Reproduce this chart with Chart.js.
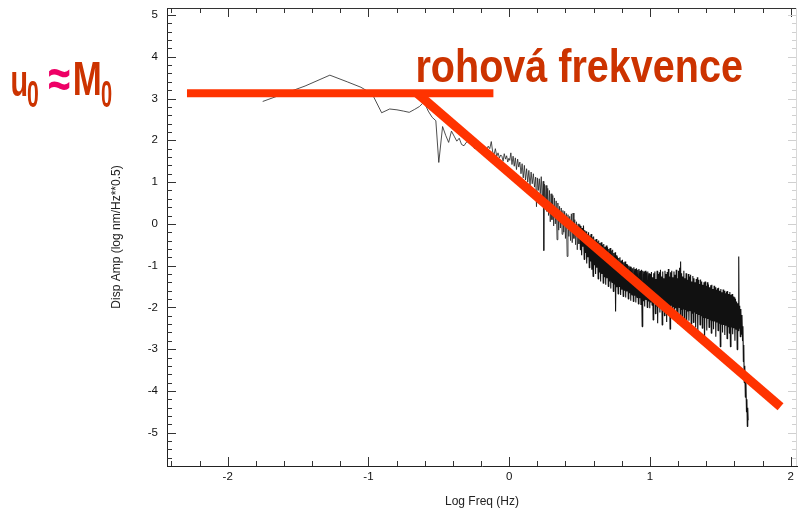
<!DOCTYPE html>
<html>
<head>
<meta charset="utf-8">
<script src="https://cdn.jsdelivr.net/npm/chart.js@4/dist/chart.umd.min.js"></script>
<style>
  html, body { margin: 0; padding: 0; background: #fff; }
  canvas { display: block; }
</style>
</head>
<body>
<canvas id="spec" width="798" height="509"></canvas>
<script>
// Displacement amplitude spectrum: [log frequency (Hz), log amplitude]
const spectrum = [
  [-1.751, 2.93], [-1.450, 3.30], [-1.274, 3.56], [-1.150, 3.40], [-1.053, 3.27],
  [-0.973, 3.11], [-0.906, 2.66], [-0.849, 2.75], [-0.797, 2.73], [-0.751, 2.70],
  [-0.710, 2.67], [-0.672, 2.74], [-0.637, 2.81], [-0.605, 2.92], [-0.575, 2.70],
  [-0.547, 2.55], [-0.521, 2.47], [-0.500, 1.47], [-0.473, 2.33], [-0.451, 2.12],
  [-0.430, 1.95], [-0.410, 2.22], [-0.391, 2.10], [-0.372, 1.98], [-0.355, 2.05],
  [-0.338, 1.90], [-0.321, 1.87], [-0.305, 1.95], [-0.290, 1.98], [-0.274, 2.05],
  [-0.260, 1.90], [-0.246, 1.80], [-0.233, 1.92], [-0.220, 1.78], [-0.207, 1.72],
  [-0.195, 1.83], [-0.183, 1.70], [-0.171, 1.78], [-0.160, 1.76], [-0.149, 1.86],
  [-0.138, 1.80], [-0.127, 1.97], [-0.117, 1.72], [-0.107, 1.66], [-0.098, 1.80],
  [-0.088, 1.62], [-0.079, 1.70], [-0.069, 1.58], [-0.060, 1.65], [-0.052, 1.62],
  [-0.043, 1.50], [-0.035, 1.68], [-0.026, 1.55], [-0.018, 1.63], [-0.010, 1.48],
  [-0.002, 1.57], [0.004, 1.52], [0.012, 1.70], [0.020, 1.42], [0.028, 1.62],
  [0.036, 1.38], [0.044, 1.58], [0.052, 1.30], [0.060, 1.55], [0.068, 1.36],
  [0.076, 1.48], [0.084, 1.20], [0.092, 1.44], [0.100, 1.10], [0.108, 1.40],
  [0.116, 1.05], [0.124, 1.32], [0.132, 1.00], [0.140, 1.28], [0.148, 0.92],
  [0.156, 1.24], [0.164, 0.96], [0.172, 1.20], [0.180, 0.88], [0.188, 1.12],
  [0.194, 0.41], [0.200, 1.10], [0.207, 0.80], [0.214, 1.08], [0.221, 0.72],
  [0.228, 1.13], [0.235, 0.55], [0.242, 1.02], [0.246, -0.64], [0.250, 0.95],
  [0.256, 0.45], [0.262, 0.92], [0.268, 0.30], [0.274, 0.85], [0.280, 0.20],
  [0.286, 0.80], [0.292, 0.05], [0.298, 0.72], [0.304, 0.10], [0.310, 0.68],
  [0.316, -0.05], [0.322, 0.62], [0.328, 0.00], [0.334, 0.55], [0.340, -0.38],
  [0.346, 0.50], [0.352, -0.15], [0.358, 0.42], [0.364, -0.10], [0.370, 0.38],
  [0.376, -0.25], [0.382, 0.32], [0.388, -0.20], [0.394, 0.30], [0.400, -0.35],
  [0.406, 0.25], [0.412, -0.78], [0.418, 0.22], [0.424, -0.30], [0.430, 0.18],
  [0.436, -0.40], [0.442, 0.24], [0.448, -0.45], [0.454, 0.26], [0.460, -0.35],
  [0.466, 0.10], [0.472, -0.50], [0.478, 0.05], [0.484, -0.62], [0.490, 0.00],
  [0.496, -0.48], [0.502, -0.02], [0.506, -0.62], [0.510, -0.05], [0.515, -0.75],
  [0.519, -0.10], [0.524, -0.55], [0.528, -0.04], [0.533, -0.85], [0.537, -0.15],
  [0.542, -0.70], [0.546, -0.18], [0.551, -0.95], [0.555, -0.25], [0.560, -0.80],
  [0.564, -0.20], [0.569, -1.05], [0.573, -0.28], [0.578, -0.90], [0.582, -0.24],
  [0.587, -1.10], [0.591, -0.32], [0.596, -1.26], [0.600, -0.30], [0.605, -0.98],
  [0.609, -0.38], [0.614, -1.20], [0.618, -0.36], [0.623, -1.05], [0.627, -0.42],
  [0.632, -1.32], [0.636, -0.40], [0.641, -1.15], [0.645, -0.46], [0.650, -1.38],
  [0.654, -0.44], [0.659, -1.20], [0.663, -0.50], [0.668, -1.42], [0.672, -0.48],
  [0.677, -1.28], [0.681, -0.55], [0.686, -1.46], [0.690, -0.52], [0.695, -1.30],
  [0.699, -0.56], [0.704, -1.50], [0.708, -0.60], [0.713, -1.38], [0.717, -0.58],
  [0.722, -1.55], [0.726, -0.64], [0.731, -1.40], [0.735, -0.62], [0.740, -1.62],
  [0.744, -0.70], [0.749, -1.45], [0.753, -0.68], [0.756, -2.10], [0.760, -0.75],
  [0.765, -1.52], [0.769, -0.78], [0.774, -1.68], [0.778, -0.82], [0.783, -1.50],
  [0.787, -0.80], [0.792, -1.70], [0.796, -0.88], [0.801, -1.58], [0.805, -0.86],
  [0.810, -1.74], [0.814, -0.92], [0.819, -1.60], [0.823, -0.90], [0.828, -1.76],
  [0.832, -0.96], [0.837, -1.62], [0.841, -0.98], [0.846, -1.80], [0.850, -1.00],
  [0.855, -1.66], [0.859, -1.02], [0.864, -1.84], [0.868, -1.04], [0.873, -1.70],
  [0.877, -1.06], [0.882, -1.86], [0.886, -1.04], [0.891, -1.72], [0.895, -1.08],
  [0.900, -1.88], [0.904, -1.06], [0.909, -1.76], [0.913, -1.10], [0.918, -1.92],
  [0.922, -1.08], [0.927, -1.78], [0.931, -1.12], [0.936, -1.94], [0.940, -1.10],
  [0.945, -2.46], [0.949, -1.12], [0.954, -1.85], [0.958, -1.14], [0.963, -1.98],
  [0.967, -1.12], [0.972, -1.82], [0.976, -1.16], [0.981, -2.00], [0.985, -1.14],
  [0.990, -1.86], [0.994, -1.18], [0.999, -2.02], [1.003, -1.20], [1.007, -1.88],
  [1.011, -1.15], [1.015, -1.95], [1.019, -1.28], [1.023, -2.30], [1.027, -1.18],
  [1.031, -1.84], [1.035, -1.14], [1.039, -2.15], [1.043, -1.32], [1.047, -1.98],
  [1.051, -1.12], [1.055, -2.38], [1.059, -1.20], [1.063, -1.90], [1.067, -1.16],
  [1.071, -2.12], [1.075, -1.10], [1.079, -1.86], [1.083, -1.26], [1.087, -2.42],
  [1.091, -1.14], [1.095, -2.00], [1.099, -1.30], [1.103, -2.20], [1.107, -1.12],
  [1.111, -1.92], [1.115, -1.20], [1.119, -2.35], [1.123, -1.15], [1.127, -1.96],
  [1.131, -1.08], [1.135, -2.18], [1.139, -1.26], [1.143, -2.52], [1.147, -1.16],
  [1.151, -1.95], [1.155, -1.12], [1.159, -2.22], [1.163, -1.28], [1.167, -1.98],
  [1.171, -1.14], [1.175, -2.30], [1.179, -1.22], [1.183, -2.02], [1.187, -1.10],
  [1.191, -2.24], [1.195, -1.30], [1.199, -2.40], [1.203, -1.12], [1.207, -2.00],
  [1.211, -1.05], [1.215, -2.26], [1.218, -0.90], [1.221, -2.05], [1.225, -1.18],
  [1.229, -2.45], [1.233, -1.26], [1.237, -2.04], [1.241, -1.12], [1.245, -2.28],
  [1.249, -1.30], [1.253, -2.06], [1.257, -1.18], [1.261, -2.50], [1.265, -1.34],
  [1.269, -2.10], [1.273, -1.20], [1.277, -2.32], [1.281, -1.26], [1.285, -2.08],
  [1.289, -1.22], [1.293, -2.40], [1.297, -1.38], [1.301, -2.14], [1.305, -1.25],
  [1.309, -2.36], [1.313, -1.30], [1.317, -2.12], [1.321, -1.40], [1.325, -2.48],
  [1.329, -1.32], [1.333, -2.16], [1.337, -1.28], [1.340, -2.70], [1.344, -1.34],
  [1.348, -2.18], [1.352, -1.44], [1.356, -2.42], [1.360, -1.33], [1.364, -2.20],
  [1.368, -1.38], [1.372, -2.50], [1.376, -1.46], [1.380, -2.24], [1.384, -1.40],
  [1.388, -2.85], [1.392, -1.38], [1.396, -2.26], [1.400, -1.48], [1.404, -2.55],
  [1.408, -1.40], [1.412, -2.28], [1.416, -1.45], [1.420, -2.48], [1.424, -1.52],
  [1.428, -2.30], [1.432, -1.47], [1.436, -2.62], [1.440, -1.46], [1.444, -2.32],
  [1.448, -1.56], [1.452, -2.52], [1.456, -1.48], [1.460, -2.34], [1.464, -1.52],
  [1.468, -2.70], [1.472, -1.58], [1.476, -2.36], [1.480, -1.54], [1.484, -2.56],
  [1.488, -1.53], [1.492, -2.38], [1.496, -1.60], [1.500, -2.94], [1.504, -1.56],
  [1.508, -2.40], [1.512, -1.64], [1.516, -2.60], [1.520, -1.57], [1.524, -2.42],
  [1.528, -1.60], [1.532, -2.66], [1.536, -1.66], [1.540, -2.44], [1.544, -1.62],
  [1.548, -2.75], [1.552, -1.61], [1.556, -2.46], [1.560, -1.68], [1.564, -2.62],
  [1.568, -1.63], [1.572, -2.94], [1.576, -1.70], [1.580, -2.48], [1.584, -1.68],
  [1.588, -2.64], [1.592, -1.74], [1.596, -2.50], [1.600, -1.76], [1.604, -2.80],
  [1.608, -1.80], [1.612, -2.52], [1.616, -1.86], [1.620, -3.01], [1.624, -1.90],
  [1.628, -2.56], [1.631, -0.78], [1.634, -2.50], [1.638, -1.96], [1.642, -2.70],
  [1.646, -2.04], [1.650, -2.64], [1.654, -2.18], [1.658, -2.80], [1.661, -2.45],
  [1.664, -3.30], [1.667, -2.90], [1.670, -3.80], [1.674, -3.40], [1.678, -4.15],
  [1.682, -3.75], [1.686, -4.50], [1.689, -4.20], [1.692, -4.85], [1.695, -4.40],
  [1.698, -4.70]
];

// Hand-drawn model spectrum: flat low-frequency level and the high-frequency fall-off
const flatLevel = [[-2.289, 3.127], [-0.112, 3.127]];
const rollOff = [[-0.654, 3.127], [1.928, -4.378]];

// Axis ranges and tick spacing
const xRange = [-2.431, 2.045];
const yRange = [-5.797, 5.168];
const tickStep = 0.2;

const xTitle = 'Log Freq (Hz)';
const yTitle = 'Disp Amp (log nm/Hz**0.5)';
const cornerText = 'rohová frekvence';
const momentText = ['u', '0', '≈', 'M', '0'];

// The sparse low-frequency part is drawn with a finer pen than the dense band
const denseFrom = 0.5;

const isWhole = v => Math.abs(v - Math.round(v)) < 1e-6;
const wholeLabel = v => (isWhole(v) ? String(Math.round(v)) : '');
const toXY = pts => pts.map(([x, y]) => ({ x, y }));

const TXT = '#CC3300';
const PINK = '#EE0066';
const LINE_RED = '#FF3300';
const SANS = '"Liberation Sans", Arial, Helvetica, sans-serif';

// Inward tick marks on all four sides plus the top/right frame
const frameTicks = {
  id: 'frameTicks',
  beforeDatasetsDraw(chart) {
    const { ctx, chartArea: a, scales: { x, y } } = chart;
    ctx.save();
    ctx.lineWidth = 1;
    x.ticks.forEach(t => {
      const px = Math.round(x.getPixelForValue(t.value)) + 0.5;
      const len = isWhole(t.value) ? 9 : 5;
      ctx.strokeStyle = '#333';
      ctx.beginPath();
      ctx.moveTo(px, a.bottom); ctx.lineTo(px, a.bottom - len);
      ctx.moveTo(px, a.top); ctx.lineTo(px, a.top + len);
      ctx.stroke();
    });
    y.ticks.forEach(t => {
      const py = Math.round(y.getPixelForValue(t.value)) + 0.5;
      const len = isWhole(t.value) ? 9 : 5;
      ctx.strokeStyle = '#333';
      ctx.beginPath();
      ctx.moveTo(a.left, py); ctx.lineTo(a.left + len, py);
      ctx.stroke();
      ctx.strokeStyle = '#d0d0d0';
      ctx.beginPath();
      ctx.moveTo(a.right, py); ctx.lineTo(a.right - len, py);
      ctx.stroke();
    });
    ctx.strokeStyle = '#333';
    ctx.beginPath();
    ctx.moveTo(a.left, Math.round(a.top) + 0.5);
    ctx.lineTo(a.right, Math.round(a.top) + 0.5);
    ctx.stroke();
    ctx.strokeStyle = '#d8d8d8';
    ctx.beginPath();
    ctx.moveTo(Math.round(a.right) - 0.5, a.top);
    ctx.lineTo(Math.round(a.right) - 0.5, a.bottom);
    ctx.stroke();
    ctx.restore();
  }
};

// Draws text stretched into a given ink box [left, top, right, bottom]
function boxText(ctx, text, font, color, box) {
  ctx.save();
  ctx.font = font;
  ctx.textBaseline = 'alphabetic';
  ctx.textAlign = 'left';
  const m = ctx.measureText(text);
  const w = m.actualBoundingBoxLeft + m.actualBoundingBoxRight;
  const h = m.actualBoundingBoxAscent + m.actualBoundingBoxDescent;
  ctx.translate(box[0], box[1]);
  ctx.scale((box[2] - box[0]) / w, (box[3] - box[1]) / h);
  ctx.fillStyle = color;
  ctx.fillText(text, m.actualBoundingBoxLeft, m.actualBoundingBoxAscent);
  ctx.restore();
}

// Draws text on a baseline, squeezed horizontally to a given width
function widthText(ctx, text, font, color, left, right, baseline) {
  ctx.save();
  ctx.font = font;
  ctx.textBaseline = 'alphabetic';
  ctx.textAlign = 'left';
  const m = ctx.measureText(text);
  const w = m.actualBoundingBoxLeft + m.actualBoundingBoxRight;
  ctx.translate(left, baseline);
  ctx.scale((right - left) / w, 1);
  ctx.fillStyle = color;
  ctx.fillText(text, m.actualBoundingBoxLeft, 0);
  ctx.restore();
}

const annotations = {
  id: 'annotations',
  afterDraw(chart) {
    const ctx = chart.ctx;
    widthText(ctx, cornerText, 'bold 47px ' + SANS, TXT, 418, 742, 82);
    const big = 'bold 46px ' + SANS;
    const sub = 'bold 34px ' + SANS;
    boxText(ctx, momentText[0], big, TXT, [11.7, 71.7, 26.7, 95.5]);
    boxText(ctx, momentText[1], sub, TXT, [27.7, 81.7, 38.3, 106.7]);
    boxText(ctx, momentText[2], big, PINK, [48.3, 68, 70, 90]);
    boxText(ctx, momentText[3], big, TXT, [75, 61.7, 100, 95.2]);
    boxText(ctx, momentText[4], sub, TXT, [101.7, 81.7, 111.7, 106.7]);
  }
};

const tickFont = { family: SANS, size: 11.5 };
const sparsePart = spectrum.filter(p => p[0] <= denseFrom + 0.002);
const densePart = spectrum.filter(p => p[0] >= denseFrom);

new Chart(document.getElementById('spec'), {
  type: 'line',
  data: {
    datasets: [
      {
        data: toXY(flatLevel), borderColor: LINE_RED, borderWidth: 8,
        pointRadius: 0, borderCapStyle: 'butt', order: 0
      },
      {
        data: toXY(rollOff), borderColor: LINE_RED, borderWidth: 9,
        pointRadius: 0, borderCapStyle: 'butt', order: 0
      },
      {
        data: toXY(sparsePart), borderColor: '#222', borderWidth: 0.8,
        pointRadius: 0, tension: 0, borderJoinStyle: 'bevel', order: 1
      },
      {
        data: toXY(densePart), borderColor: '#111', borderWidth: 1.1,
        pointRadius: 0, tension: 0, borderJoinStyle: 'bevel', order: 1
      }
    ]
  },
  options: {
    responsive: false,
    animation: false,
    devicePixelRatio: 1,
    layout: { padding: { top: 8, right: 1, bottom: 0, left: 0 } },
    plugins: { legend: { display: false }, tooltip: { enabled: false } },
    scales: {
      x: {
        type: 'linear',
        min: xRange[0], max: xRange[1],
        grid: { display: true, drawOnChartArea: false, drawTicks: false },
        border: { display: true, color: '#222', width: 1 },
        ticks: {
          stepSize: tickStep, includeBounds: false, autoSkip: false,
          maxRotation: 0, padding: 4, color: '#111', font: tickFont,
          callback: v => wholeLabel(v)
        },
        title: {
          display: true, text: xTitle, color: '#222',
          font: { family: SANS, size: 12 },
          padding: { top: 0, bottom: 0 }
        },
        afterFit: s => { s.height = 43; s.paddingLeft = 0; s.paddingRight = 0; }
      },
      y: {
        type: 'linear',
        min: yRange[0], max: yRange[1],
        grid: { display: true, drawOnChartArea: false, drawTicks: false },
        border: { display: true, color: '#222', width: 1 },
        ticks: {
          stepSize: tickStep, includeBounds: false, autoSkip: false,
          padding: 9, color: '#111', font: tickFont,
          callback: v => wholeLabel(v)
        },
        title: {
          display: true, text: yTitle, color: '#222',
          font: { family: SANS, size: 12 },
          padding: { top: 109, bottom: 0 }
        },
        afterFit: s => { s.width = 167; s.paddingTop = 0; s.paddingBottom = 0; }
      }
    }
  },
  plugins: [frameTicks, annotations]
});
</script>
</body>
</html>
